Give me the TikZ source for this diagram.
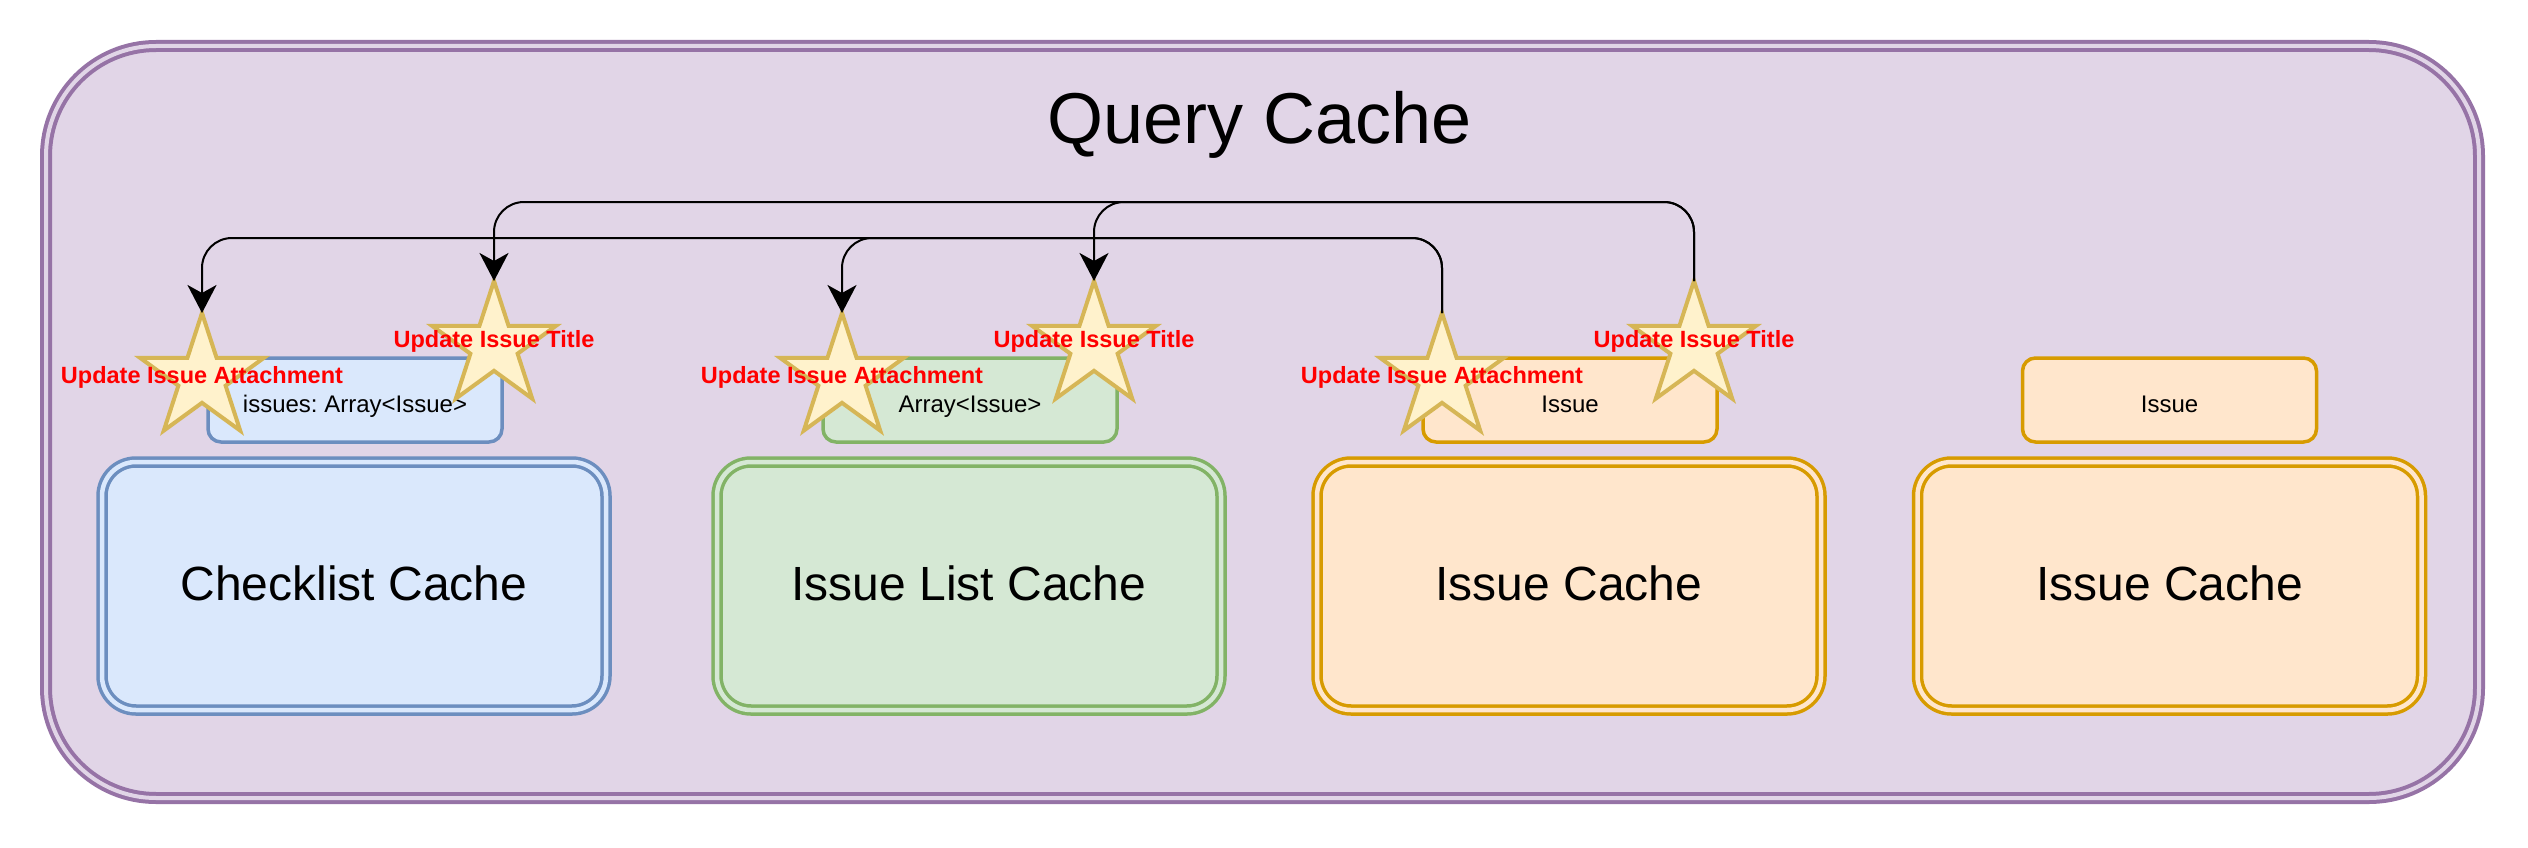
\documentclass[tikz,border=0pt]{standalone}
\usepackage{fontspec}
\setmainfont{Liberation Sans}
\frenchspacing
\usetikzlibrary{shapes.geometric,arrows.meta}
\definecolor{pfill}{HTML}{E1D5E7}\definecolor{pdraw}{HTML}{9673A6}
\definecolor{bfill}{HTML}{DAE8FC}\definecolor{bdraw}{HTML}{6C8EBF}
\definecolor{gfill}{HTML}{D5E8D4}\definecolor{gdraw}{HTML}{82B366}
\definecolor{ofill}{HTML}{FFE6CC}\definecolor{odraw}{HTML}{D79B00}
\definecolor{sfill}{HTML}{FFF2CC}\definecolor{sdraw}{HTML}{D6B656}
\definecolor{lblred}{HTML}{FF0000}
\tikzset{
  outerbox/.style={rectangle, draw=pdraw, fill=pfill, double=pfill, double distance=4pt, line width=4pt,
    rounded corners=110pt, minimum width=2433pt, minimum height=752pt, inner sep=0pt, outer sep=0pt},
  bigbox/.style={rectangle, draw=#1draw, fill=#1fill, double=#1fill, double distance=4.5pt, line width=3.5pt,
    rounded corners=34pt, minimum width=504pt, minimum height=248pt, inner sep=0pt, outer sep=0pt,
    font=\fontsize{48}{56}\selectfont, text height=28pt, text depth=0pt},
  smallbox/.style={rectangle, draw=#1draw, fill=#1fill, line width=3.5pt,
    rounded corners=13pt, minimum width=294pt, minimum height=84pt, inner sep=0pt, outer sep=0pt,
    font=\fontsize{24}{28}\selectfont, text height=24pt, text depth=0pt},
  starshape/.style={star, star points=5, star point ratio=2.618, minimum size=130pt,
    draw=sdraw, fill=sfill, line width=4pt, inner sep=0pt, outer sep=0pt},
  lbl/.style={anchor=base, text=lblred, inner sep=0pt, font=\bfseries\fontsize{23.5}{28}\selectfont},
  edge/.style={draw=black, line width=2pt, rounded corners=30pt,
    -{Stealth[length=28pt, width=29pt, inset=8pt]}},
}
\begin{document}
\begin{tikzpicture}[x=1pt, y=-1pt]
\useasboundingbox (0,0) rectangle (2528,848);
% outer container
\node[outerbox] (qc) at (1262.5,422) {};
\node[anchor=base, inner sep=0pt, font=\fontsize{72}{80}\selectfont] (qct) at (1260,144) {Query Cache};
% big boxes
\node[bigbox=b] (cc)  at (354,586)    {Checklist Cache};
\node[bigbox=g] (ilc) at (969,586)    {Issue List Cache};
\node[bigbox=o] (ic1) at (1569,586)   {Issue Cache};
\node[bigbox=o] (ic2) at (2169.5,586) {Issue Cache};
% small boxes
\node[smallbox=b] (sb1) at (355,400)  {issues: Array<Issue>};
\node[smallbox=g] (sb2) at (970,400)  {Array<Issue>};
\node[smallbox=o] (sb3) at (1570,400) {Issue};
\node[smallbox=o] (sb4) at (2169.5,400) {Issue};
% row coordinates for the connectors
\coordinate (rowA) at (0,238);
\coordinate (rowT) at (0,202);
% stars
\node[starshape] (a1) at (202,378) {};
\node[starshape] (t1) at (494,346) {};
\node[starshape] (a2) at (842,378) {};
\node[starshape] (t2) at (1094,346) {};
\node[starshape] (a3) at (1442,378) {};
\node[starshape] (t3) at (1694,346) {};
% connectors
\draw[edge] (a3.outer point 1) -- (a3.outer point 1 |- rowA) -- (a1.outer point 1 |- rowA) -- (a1.outer point 1);
\draw[edge] (a3.outer point 1) -- (a3.outer point 1 |- rowA) -- (a2.outer point 1 |- rowA) -- (a2.outer point 1);
\draw[edge] (t3.outer point 1) -- (t3.outer point 1 |- rowT) -- (t1.outer point 1 |- rowT) -- (t1.outer point 1);
\draw[edge] (t3.outer point 1) -- (t3.outer point 1 |- rowT) -- (t2.outer point 1 |- rowT) -- (t2.outer point 1);
% labels
\node[lbl] (la1) at (202,383)  {Update Issue Attachment};
\node[lbl] (lt1) at (494,347)  {Update Issue Title};
\node[lbl] (la2) at (842,383)  {Update Issue Attachment};
\node[lbl] (lt2) at (1094,347) {Update Issue Title};
\node[lbl] (la3) at (1442,383) {Update Issue Attachment};
\node[lbl] (lt3) at (1694,347) {Update Issue Title};
\end{tikzpicture}
\end{document}
